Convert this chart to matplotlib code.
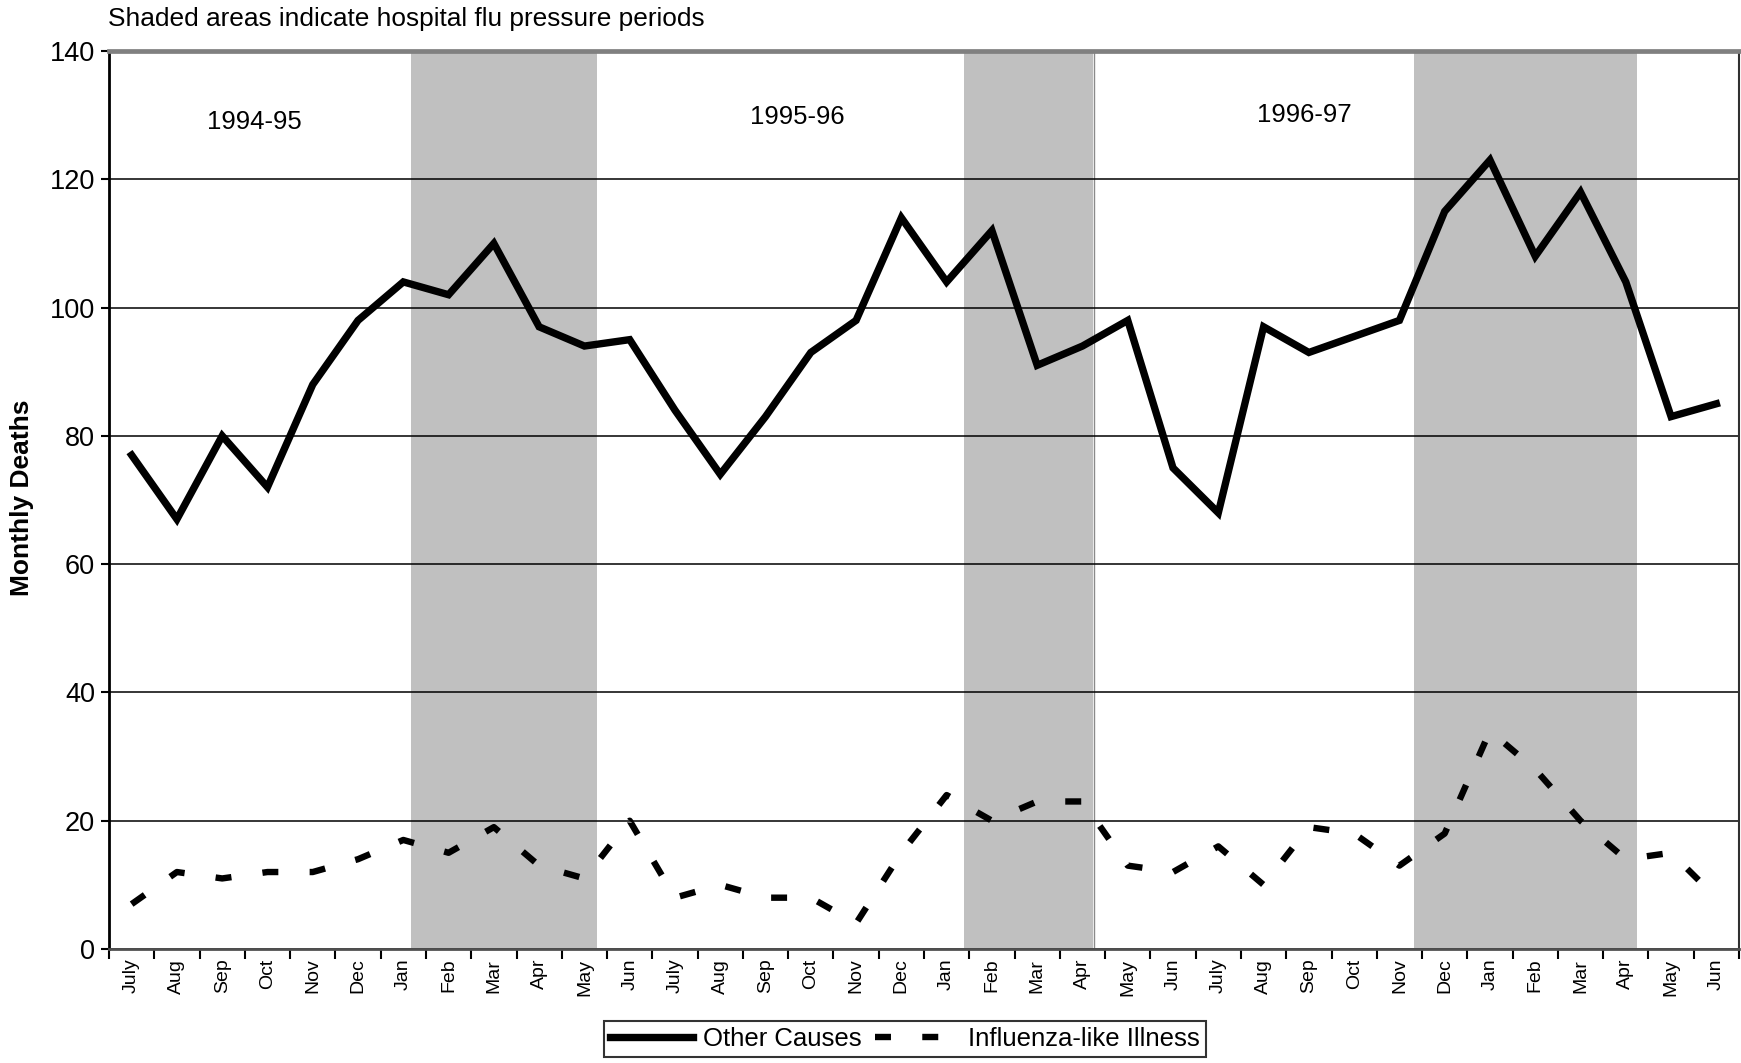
import matplotlib
matplotlib.use("Agg")
import matplotlib.pyplot as plt

plt.rcParams['font.family'] = ['Liberation Sans', 'DejaVu Sans']

months = ["July", "Aug", "Sep", "Oct", "Nov", "Dec", "Jan", "Feb", "Mar", "Apr", "May", "Jun",
          "July", "Aug", "Sep", "Oct", "Nov", "Dec", "Jan", "Feb", "Mar", "Apr", "May", "Jun",
          "July", "Aug", "Sep", "Oct", "Nov", "Dec", "Jan", "Feb", "Mar", "Apr", "May", "Jun"]

other_causes = [77, 67, 80, 72, 88, 98, 104, 102, 110, 97, 94, 95,
                84, 74, 83, 93, 98, 114, 104, 112, 91, 94, 98, 75,
                68, 97, 93, 95.5, 98, 115, 123, 108, 118, 104, 83, 85]

influenza = [7, 12, 11, 12, 12, 14, 17, 15, 19, 13, 11, 20,
             8, 10, 8, 8, 4, 15, 24, 20, 23, 23, 13, 12,
             16, 10, 19, 18, 13, 18, 34, 28, 20, 14, 15, 8]

# flu pressure periods, in category positions
flu_periods = [(6.16, 10.28), (18.39, 21.23), (28.32, 33.24)]
seasons = ["1994-95", "1995-96", "1996-97"]
season_pos = [(2.7, 129), (14.7, 129.7), (25.9, 130)]

fig = plt.figure(figsize=(17.41, 10.63), dpi=100)
ax = fig.add_axes([109 / 1741, 1 - 949 / 1063, 1630 / 1741, 898 / 1063])

x = list(range(len(months)))

for a, b in flu_periods:
    ax.axvspan(a, b, color='#c0c0c0', lw=0, zorder=0.2)
ax.axvline(flu_periods[1][1] + 0.03, color='#8a8a8a', lw=1, zorder=0.3)

ax.plot(x, other_causes, color='black', lw=5.3, solid_joinstyle='miter',
        label='Other Causes', zorder=3)
ax.plot(x, influenza, color='black', lw=4.6, linestyle=(0, (2.5, 4.9)),
        dash_capstyle='butt', label='Influenza-like Illness', zorder=3)

for name, (px, py) in zip(seasons, season_pos):
    ax.text(px, py, name, ha='center', va='center', fontsize=18.5)

ax.set_xlim(-0.5, len(months) - 0.5)
ax.set_ylim(0, 140)
ax.set_yticks(range(0, 141, 20))
ax.tick_params(axis='y', labelsize=19.5, length=6, width=1.5, direction='out', pad=4)

ax.set_xticks(x)
ax.set_xticklabels(months, rotation=90, fontsize=14)
ax.tick_params(axis='x', which='major', length=0, pad=7)
ax.set_xticks([i - 0.5 for i in range(len(months) + 1)], minor=True)
ax.tick_params(axis='x', which='minor', length=7, width=1.5, direction='out')

ax.set_axisbelow(True)
ax.yaxis.grid(True, color='black', lw=1.1)

ax.spines['left'].set_linewidth(2)
ax.spines['left'].set_color('black')
ax.spines['bottom'].set_linewidth(2)
ax.spines['bottom'].set_color('#505050')
ax.spines['top'].set_linewidth(3.4)
ax.spines['top'].set_color('#808080')
ax.spines['right'].set_linewidth(1.5)
ax.spines['right'].set_color('#303030')

fig.text(108 / 1741, 1 - 19 / 1063, "Shaded areas indicate hospital flu pressure periods",
         ha='left', va='center', fontsize=18.9)
fig.text(22 / 1741, 1 - 498 / 1063, "Monthly Deaths", rotation=90, ha='center', va='center',
         fontsize=19, fontweight='bold')

leg = fig.legend(loc='center', bbox_to_anchor=(905 / 1741, 1 - 1039 / 1063),
                 bbox_transform=fig.transFigure, ncol=2, fontsize=18.5, frameon=True,
                 fancybox=False, edgecolor='black', handlelength=3.2, handletextpad=0.42,
                 columnspacing=0.5, borderpad=0.25, borderaxespad=0)
leg.get_frame().set_linewidth(1.5)

fig.savefig("out.png", dpi=100)
